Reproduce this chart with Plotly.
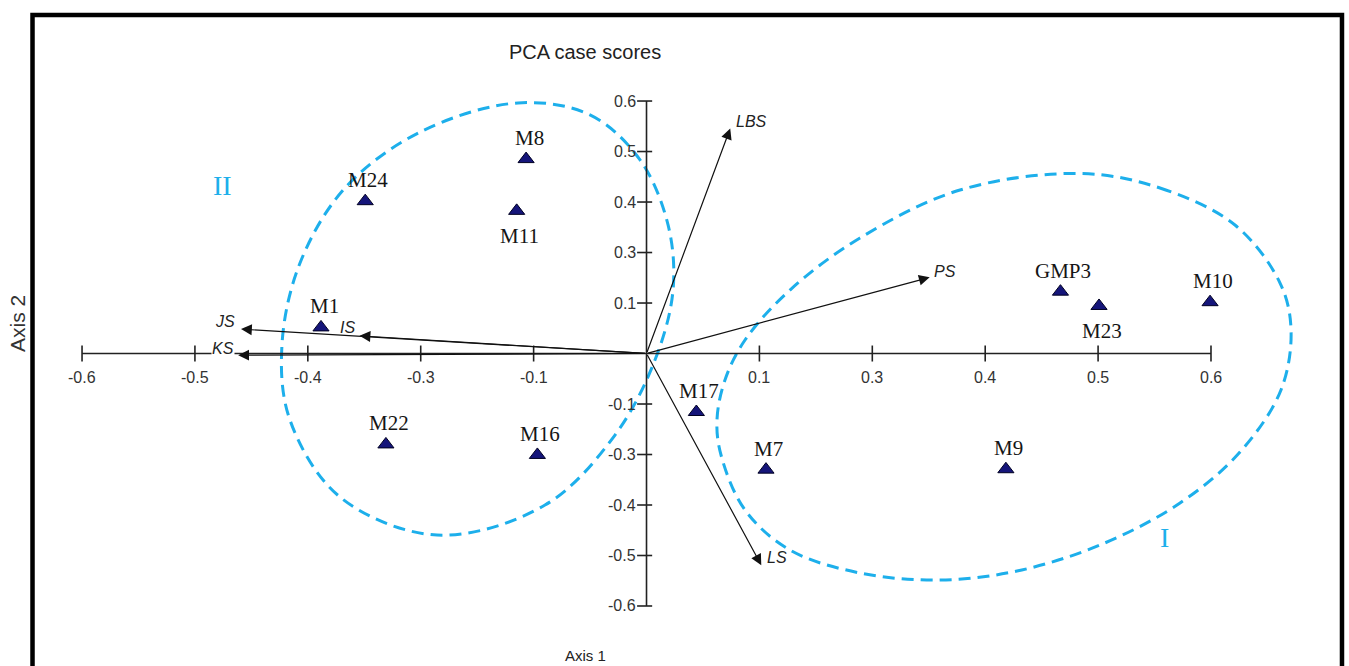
import plotly.graph_objects as go

# ---------------- data ----------------
# axis units: each printed tick step is 0.12 units on the drawn axes
case_names = ["M8", "M24", "M11", "M1", "M22", "M16", "M17", "M7", "M9", "GMP3", "M23", "M10"]
case_x = [-0.128, -0.299, -0.138, -0.346, -0.277, -0.116, 0.053, 0.127, 0.382, 0.440, 0.481, 0.599]
case_y = [0.462, 0.362, 0.339, 0.062, -0.216, -0.241, -0.139, -0.276, -0.275, 0.147, 0.113, 0.122]
case_label_side = ["top", "top", "bottom", "top", "top", "top", "top", "top", "top", "top", "bottom", "top"]

var_names = ["LBS", "PS", "LS", "JS", "KS", "IS"]
var_x = [0.089, 0.301, 0.122, -0.431, -0.434, -0.305]
var_y = [0.535, 0.181, -0.503, 0.058, -0.004, 0.042]

tick_vals = [-0.6, -0.48, -0.36, -0.24, -0.12, 0.12, 0.24, 0.36, 0.48, 0.6]
tick_text = ["-0.6", "-0.5", "-0.4", "-0.3", "-0.1", "0.1", "0.3", "0.4", "0.5", "0.6"]

# group outlines (dashed curves)
group2_x = [-0.1366, -0.0601, -0.0069, 0.0229, 0.0282, 0.0090, -0.0335, -0.1079, -0.2227,
            -0.3258, -0.3790, -0.3875, -0.3683, -0.3205, -0.2408, -0.1366]
group2_y = [0.5955, 0.5670, 0.4601, 0.3056, 0.1509, -0.0154, -0.1937, -0.3601, -0.4314,
            -0.3410, -0.1580, 0.0202, 0.2151, 0.3933, 0.5261, 0.5955]
group1_x = [0.4608, 0.5458, 0.6255, 0.6734, 0.6851, 0.6744, 0.6308, 0.5671, 0.4820, 0.3938,
            0.3120, 0.2269, 0.1525, 0.1047, 0.0792, 0.0749, 0.0834, 0.1047, 0.1525, 0.2269,
            0.3332, 0.4608]
group1_y = [0.4278, 0.3933, 0.3054, 0.1675, 0.0558, -0.0867, -0.2341, -0.3553, -0.4551, -0.5169,
            -0.5383, -0.5216, -0.4670, -0.3719, -0.2412, -0.1580, -0.0630, 0.0321, 0.1509, 0.2745,
            0.3885, 0.4278]

# ---------------- styles ----------------
CYAN = "#1DAFEB"
AXIS = "#222222"
var_anchor = ["left", "left", "left", "right", "right", "right"]
var_dx = [5, 3, 5, -5, -3, -4]
var_dy = [7, 6, 8, 8, 7, 8]

fig = go.Figure()

# group outlines
for gx, gy in [(group2_x, group2_y), (group1_x, group1_y)]:
    fig.add_trace(go.Scatter(x=gx, y=gy, mode="lines",
                             line=dict(color=CYAN, width=3, dash="12px,7px", shape="spline", smoothing=1.0),
                             hoverinfo="skip"))

# axis lines
fig.add_trace(go.Scatter(x=[tick_vals[0], tick_vals[-1]], y=[0, 0], mode="lines",
                         line=dict(color=AXIS, width=1.6), hoverinfo="skip"))
fig.add_trace(go.Scatter(x=[0, 0], y=[tick_vals[0], tick_vals[-1]], mode="lines",
                         line=dict(color=AXIS, width=1.6), hoverinfo="skip"))

# tick marks
tx, ty = [], []
for v in tick_vals:
    tx += [v, v, None]
    ty += [-0.019, 0.019, None]
fig.add_trace(go.Scatter(x=tx, y=ty, mode="lines", line=dict(color=AXIS, width=1.6), hoverinfo="skip"))
tx, ty = [], []
for v in tick_vals:
    tx += [-0.010, 0.006, None]
    ty += [v, v, None]
fig.add_trace(go.Scatter(x=tx, y=ty, mode="lines", line=dict(color=AXIS, width=1.6), hoverinfo="skip"))

# case points
fig.add_trace(go.Scatter(x=case_x, y=case_y, mode="markers",
                         marker=dict(symbol="triangle-up", size=14, color="#15157A",
                                     line=dict(color="#000022", width=1)),
                         hoverinfo="text", text=case_names))

annotations = []
# tick labels
for v, t in zip(tick_vals, tick_text):
    annotations.append(dict(x=v, y=0, xref="x", yref="y", text=t, showarrow=False, yshift=-24,
                            xanchor="center", yanchor="middle",
                            font=dict(family="Liberation Sans", size=16, color="#333333")))
    annotations.append(dict(x=0, y=v, xref="x", yref="y", text=t, showarrow=False, xanchor="right",
                            yanchor="middle", xshift=-9,
                            font=dict(family="Liberation Sans", size=16, color="#333333")))

# variable vectors
for name, vx, vy, anc, dx, dy in zip(var_names, var_x, var_y, var_anchor, var_dx, var_dy):
    annotations.append(dict(x=vx, y=vy, ax=0, ay=0, xref="x", yref="y", axref="x", ayref="y",
                            text="", showarrow=True, arrowhead=2, arrowsize=1.8, arrowwidth=1.2,
                            arrowcolor="#111111", standoff=0, startstandoff=0))
    annotations.append(dict(x=vx, y=vy, xref="x", yref="y", text="<i>" + name + "</i>", showarrow=False,
                            xanchor=anc, yanchor="middle", xshift=dx, yshift=dy,
                            bgcolor="white" if name == "KS" else None, borderpad=0,
                            font=dict(family="Liberation Sans", size=16, color="#222222")))

# case labels
for name, cx, cy, side in zip(case_names, case_x, case_y, case_label_side):
    annotations.append(dict(x=cx, y=cy, xref="x", yref="y", text=name, showarrow=False,
                            xanchor="center", yanchor="middle",
                            xshift=3, yshift=21 if side == "top" else -25,
                            font=dict(family="Liberation Serif", size=21, color="#151515")))

# group labels
annotations.append(dict(x=-0.4512, y=0.4004, xref="x", yref="y", text="II", showarrow=False,
                        xanchor="center", yanchor="middle",
                        font=dict(family="Liberation Serif", size=28, color=CYAN)))
annotations.append(dict(x=0.5501, y=-0.4361, xref="x", yref="y", text="I", showarrow=False,
                        xanchor="center", yanchor="middle",
                        font=dict(family="Liberation Serif", size=28, color=CYAN)))

# axis titles
annotations.append(dict(x=0.4337, y=0.0165, xref="paper", yref="paper", text="Axis 1", showarrow=False,
                        xanchor="center", yanchor="middle",
                        font=dict(family="Liberation Sans", size=15, color="#222222")))
annotations.append(dict(x=0.0126, y=0.515, xref="paper", yref="paper", text="Axis 2", showarrow=False,
                        xanchor="center", yanchor="middle", textangle=-90,
                        font=dict(family="Liberation Sans", size=21, color="#333333")))

fig.update_layout(
    width=1349, height=666,
    margin=dict(l=0, r=0, t=0, b=0),
    paper_bgcolor="white", plot_bgcolor="white",
    showlegend=False,
    title=dict(text="PCA case scores", x=0.4337, y=0.9219, xanchor="center", yanchor="middle",
               font=dict(family="Liberation Sans", size=20, color="#222222")),
    xaxis=dict(visible=False, range=[-0.6872, 0.7467], fixedrange=True),
    yaxis=dict(visible=False, range=[-0.7426, 0.8401], fixedrange=True),
    annotations=annotations,
    shapes=[dict(type="rect", xref="paper", yref="paper", x0=0.0241, x1=0.9948, y0=-0.05, y1=0.9775,
                 line=dict(color="black", width=4.5), fillcolor="rgba(0,0,0,0)")],
)

fig.write_html("out.html", config={"displayModeBar": False},
               post_script="document.body.style.margin='0';document.body.style.overflow='hidden';")
